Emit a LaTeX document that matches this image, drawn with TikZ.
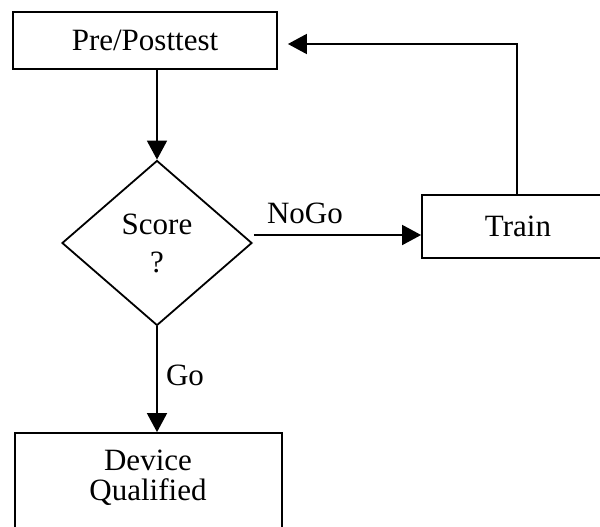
\documentclass[tikz,border=0pt]{standalone}
\usepackage{fontspec}
\setmainfont{Liberation Serif}
\usetikzlibrary{arrows.meta,shapes.geometric}
\tikzset{
  box/.style={draw, line width=1.8pt, rectangle, inner sep=0pt},
  dec/.style={draw, line width=1.8pt, diamond, inner sep=0pt, align=center},
  arr/.style={line width=1.8pt, -{Triangle[length=19pt,width=20pt]}},
  lbl/.style={inner sep=0pt},
}
\begin{document}
\begin{tikzpicture}[x=1pt,y=-1pt,font=\fontsize{31}{30}\selectfont]
\useasboundingbox (0,0) rectangle (600,527);
\clip (0,0) rectangle (600,527);
\node[box, minimum width=264pt, minimum height=57pt] (pre) at (145,40.5) {Pre/Posttest};
\node[dec, minimum width=190pt, minimum height=165pt] (d) at (157,243) {Score\\[8pt]?};
\node[box, minimum width=190pt, minimum height=63pt] (t) at (517,226.5) {};
\node[lbl] (tt) at (518,226) {Train};
\node[box, minimum width=267pt, minimum height=112pt] (dq) at (148.5,489) {};
\node[lbl, align=center] (dqt) at (148,477.5) {Device\\Qualified};
\node[lbl] (nogo) at (305,213) {NoGo};
\node[lbl] (go) at (185,375) {Go};
\coordinate (ng) at ([xshift=1pt,yshift=8pt]d.east);
\coordinate (fb) at ([xshift=10pt,yshift=-3.5pt]pre.east);
\draw[arr] (d.north |- pre.south) -- (d.north);
\draw[arr] (ng) -- (ng -| t.west);
\draw[arr] (t.north) |- (fb);
\draw[arr] (d.south) -- (d.south |- dq.north);
\end{tikzpicture}
\end{document}
